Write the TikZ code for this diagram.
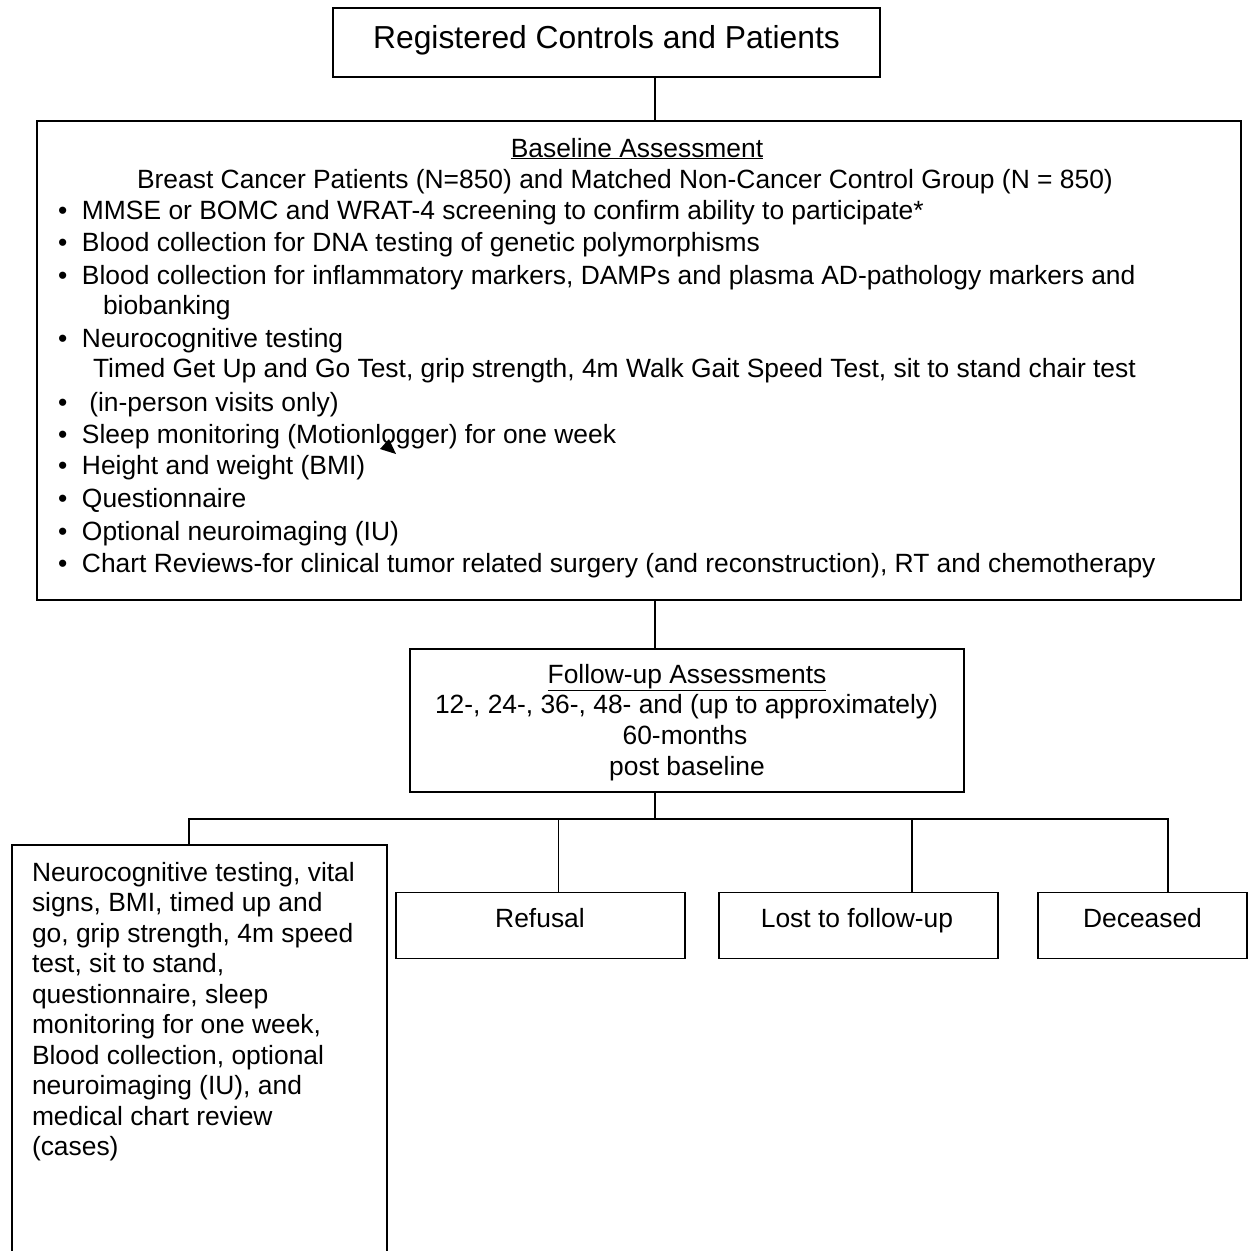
\documentclass[tikz,border=0pt]{standalone}
\usepackage{fontspec}
\setmainfont{Liberation Sans}
\begin{document}
\begin{tikzpicture}[x=1pt,y=-1pt,
  box/.style={draw, line width=1.8pt, inner sep=0pt, outer sep=0pt},
  txt/.style={inner sep=0pt, outer sep=0pt, font=\fontsize{26.4}{30}\selectfont},
  big/.style={inner sep=0pt, outer sep=0pt, font=\fontsize{31.8}{36}\selectfont},
  conn/.style={line width=1.8pt}]
\clip (0,0) rectangle (1249,1251);
\fill[white] (0,0) rectangle (1249,1251);

% boxes
\node[box, minimum width=547pt, minimum height=69pt] (reg) at (606.5,42.5) {};
\node[box, minimum width=1204pt, minimum height=479pt] (base) at (639,360.5) {};
\node[box, minimum width=554pt, minimum height=143pt] (fu) at (687,720.5) {};
\node[box, minimum width=375pt, minimum height=430pt] (left) at (199.5,1060) {};
\node[box, minimum width=289pt, minimum height=66pt] (ref) at (540.5,925.5) {};
\node[box, minimum width=279pt, minimum height=66pt] (lost) at (858.5,925.5) {};
\node[box, minimum width=209pt, minimum height=66pt] (dec) at (1142.5,925.5) {};

% connectors
\coordinate (cx) at (655,0);
\coordinate (busM) at (655,819);
\coordinate (busL) at (189,819);
\coordinate (busR) at (1168,819);
\coordinate (bRef) at (558.5,819);
\coordinate (bLost) at (912,819);
\draw[conn] (reg.south -| cx) -- (base.north -| cx);
\draw[conn] (base.south -| cx) -- (fu.north -| cx);
\draw[conn] (fu.south -| cx) -- (busM);
\draw[conn] (left.north -| busL) -- (busL) -- (busR) -- (dec.north -| busR);
\draw[conn] (bRef) -- (ref.north -| bRef);
\draw[conn] (bLost) -- (lost.north -| bLost);

% stray arrowhead
\fill (380,449) -- (389,439) -- (396,454) -- cycle;

% texts
\node[big, anchor=base] (tReg) at (606.5,48) {Registered Controls and Patients};

\node[txt, anchor=base] (tBase) at (637,157) {\underline{Baseline Assessment}};
\node[txt, anchor=base] (tGroups) at (625,188) {Breast Cancer Patients (N=850) and Matched Non-Cancer Control Group (N = 850)};
\node[txt, anchor=base west] (l1) at (58,219) {\makebox[24pt][l]{•}MMSE or BOMC and WRAT-4 screening to confirm ability to participate*};
\node[txt, anchor=base west] (l2) at (58,251) {\makebox[24pt][l]{•}Blood collection for DNA testing of genetic polymorphisms};
\node[txt, anchor=base west] (l3) at (58,284) {\makebox[24pt][l]{•}Blood collection for inflammatory markers, DAMPs and plasma AD-pathology markers and};
\node[txt, anchor=base west] (l3b) at (103,314) {biobanking};
\node[txt, anchor=base west] (l4) at (58,347) {\makebox[24pt][l]{•}Neurocognitive testing};
\node[txt, anchor=base west] (l4b) at (93,377) {Timed Get Up and Go Test, grip strength, 4m Walk Gait Speed Test, sit to stand chair test};
\node[txt, anchor=base west] (l5) at (58,411) {\makebox[24pt][l]{•} (in-person visits only)};
\node[txt, anchor=base west] (l6) at (58,443) {\makebox[24pt][l]{•}Sleep monitoring (Motionlogger) for one week};
\node[txt, anchor=base west] (l7) at (58,474) {\makebox[24pt][l]{•}Height and weight (BMI)};
\node[txt, anchor=base west] (l8) at (58,507) {\makebox[24pt][l]{•}Questionnaire};
\node[txt, anchor=base west] (l9) at (58,540) {\makebox[24pt][l]{•}Optional neuroimaging (IU)};
\node[txt, anchor=base west] (l10) at (58,572) {\makebox[24pt][l]{•}Chart Reviews-for clinical tumor related surgery (and reconstruction), RT and chemotherapy};

\node[txt, anchor=base] (f1) at (687,683) {\underline{Follow-up Assessments}};
\node[txt, anchor=base] (f2) at (686.5,713) {\makebox[503pt][s]{12-, 24-, 36-, 48- and (up to approximately)}};
\node[txt, anchor=base] (f3) at (685,744) {60-months};
\node[txt, anchor=base] (f4) at (687,775) {post baseline};

\node[txt, anchor=base west] (c1) at (32,881) {Neurocognitive testing, vital};
\node[txt, anchor=base west] (c2) at (32,911.5) {signs, BMI, timed up and};
\node[txt, anchor=base west] (c3) at (32,942) {go, grip strength, 4m speed};
\node[txt, anchor=base west] (c4) at (32,972.5) {test, sit to stand,};
\node[txt, anchor=base west] (c5) at (32,1003) {questionnaire, sleep};
\node[txt, anchor=base west] (c6) at (32,1033.5) {monitoring for one week,};
\node[txt, anchor=base west] (c7) at (32,1064) {Blood collection, optional};
\node[txt, anchor=base west] (c8) at (32,1094.5) {neuroimaging (IU), and};
\node[txt, anchor=base west] (c9) at (32,1125) {medical chart review};
\node[txt, anchor=base west] (c10) at (32,1155.5) {(cases)};

\node[txt, anchor=base] (tRef) at (540,927) {Refusal};
\node[txt, anchor=base] (tLost) at (857,927) {Lost to follow-up};
\node[txt, anchor=base] (tDec) at (1142.5,927) {Deceased};
\end{tikzpicture}
\end{document}
